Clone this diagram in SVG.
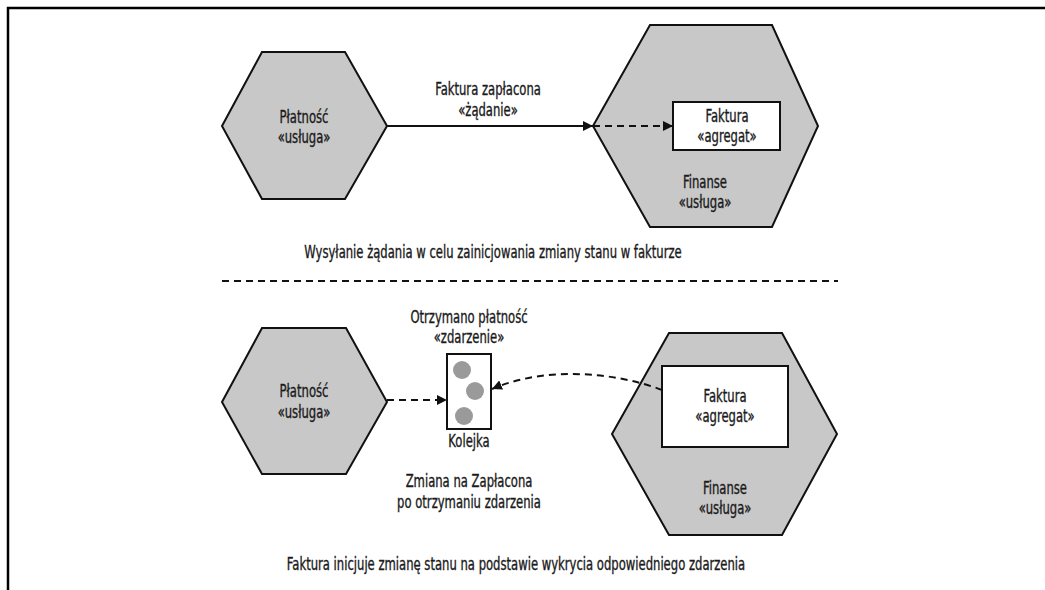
<svg xmlns="http://www.w3.org/2000/svg" width="1045" height="590" viewBox="0 0 1045 590">
<style>
.hex{fill:#c8c8c8;stroke:#111;stroke-width:2;stroke-linejoin:miter}
.box{fill:#fff;stroke:#111;stroke-width:2}
.t{font-family:"DejaVu Sans Condensed","Liberation Sans",sans-serif;font-size:17px;fill:#1a1a1a;stroke:#1a1a1a;stroke-width:0.35;text-anchor:middle}
.ln{fill:none;stroke:#111;stroke-width:2}
.dash{stroke-dasharray:7 5}
.dot{fill:#9a9a9a}
</style>
<defs>
<marker id="ah" viewBox="0 0 10 10" refX="10" refY="5" markerWidth="10" markerHeight="10" markerUnits="userSpaceOnUse" orient="auto">
<path d="M0,0 L10,5 L0,10 Z" fill="#111"/>
</marker>
</defs>
<rect width="1045" height="590" fill="#fff"/>
<g id="frame">
<path d="M8,590 V8 H1045" fill="none" stroke="#000" stroke-width="2.5"/>
</g>
<g id="platnosc1">
<polygon class="hex" points="222,126 262,52 345,52 387,126 345,199 262,199"/>
<text class="t" transform="translate(304,123) scale(0.76,1)">Płatność</text>
<text class="t" transform="translate(304,143) scale(0.76,1)">«usługa»</text>
</g>
<g id="finanse1">
<polygon class="hex" points="593,126 650,25 772,25 818,126 772,227 650,227"/>
<text class="t" transform="translate(705,188) scale(0.76,1)">Finanse</text>
<text class="t" transform="translate(705,208) scale(0.76,1)">«usługa»</text>
</g>
<g id="faktura1">
<rect class="box" x="673" y="102" width="107" height="48"/>
<text class="t" transform="translate(727,122) scale(0.76,1)">Faktura</text>
<text class="t" transform="translate(727,142) scale(0.76,1)">«agregat»</text>
</g>
<g id="platnosc2">
<polygon class="hex" points="222,402 262,328 346,328 387,402 346,474 262,474"/>
<text class="t" transform="translate(304,397) scale(0.76,1)">Płatność</text>
<text class="t" transform="translate(304,418) scale(0.76,1)">«usługa»</text>
</g>
<g id="kolejka">
<rect class="box" x="447" y="354" width="44" height="75"/>
<circle class="dot" cx="462" cy="370" r="9"/>
<circle class="dot" cx="475" cy="391" r="9"/>
<circle class="dot" cx="464" cy="416" r="9"/>
<text class="t" transform="translate(469,447) scale(0.76,1)">Kolejka</text>
</g>
<g id="finanse2">
<polygon class="hex" points="612,434 669,333 782,333 837,434 782,535 669,535"/>
<text class="t" transform="translate(725,494) scale(0.76,1)">Finanse</text>
<text class="t" transform="translate(725,514) scale(0.76,1)">«usługa»</text>
</g>
<g id="faktura2">
<rect class="box" x="662" y="366" width="126" height="81"/>
<text class="t" transform="translate(725,402) scale(0.76,1)">Faktura</text>
<text class="t" transform="translate(725,422) scale(0.76,1)">«agregat»</text>
</g>
<g id="connectors">
<line class="ln" x1="387" y1="126" x2="593" y2="126" marker-end="url(#ah)"/>
<line class="ln dash" x1="593" y1="126" x2="673" y2="126" marker-end="url(#ah)"/>
<line class="ln dash" x1="222" y1="281" x2="838" y2="281"/>
<line class="ln dash" x1="387" y1="400" x2="447" y2="400" marker-end="url(#ah)"/>
<path class="ln dash" d="M662,390 C615,372 545,366 492,389" marker-end="url(#ah)"/>
</g>
<g id="labels">
<text class="t" transform="translate(488,95) scale(0.76,1)">Faktura zapłacona</text>
<text class="t" transform="translate(488,116) scale(0.76,1)">«żądanie»</text>
<text class="t" transform="translate(493,258) scale(0.76,1)">Wysyłanie żądania w celu zainicjowania zmiany stanu w fakturze</text>
<text class="t" transform="translate(469,323) scale(0.76,1)">Otrzymano płatność</text>
<text class="t" transform="translate(469,343) scale(0.76,1)">«zdarzenie»</text>
<text class="t" transform="translate(469,487) scale(0.76,1)">Zmiana na Zapłacona</text>
<text class="t" transform="translate(469,508) scale(0.76,1)">po otrzymaniu zdarzenia</text>
<text class="t" transform="translate(516,570) scale(0.76,1)">Faktura inicjuje zmianę stanu na podstawie wykrycia odpowiedniego zdarzenia</text>
</g>
</svg>
